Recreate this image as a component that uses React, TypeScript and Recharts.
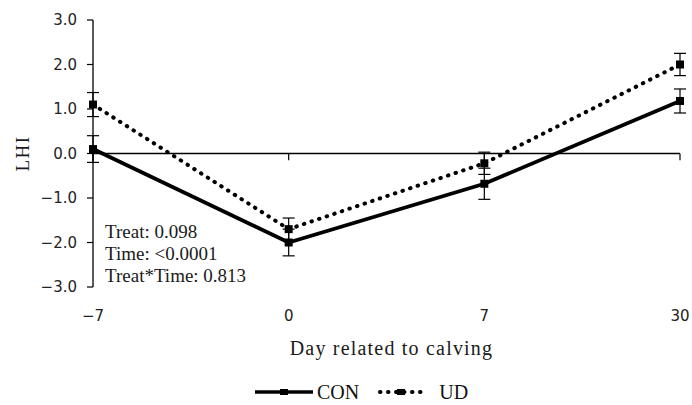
import React from 'react';
import { LineChart, Line, XAxis, YAxis, ErrorBar, ReferenceLine, Legend } from 'recharts';

const days = ['-7', '0', '7', '30'];
const conValues = [0.1, -2.0, -0.68, 1.18];
const conErrors = [0.3, 0.3, 0.35, 0.27];
const udValues = [1.1, -1.7, -0.22, 2.0];
const udErrors = [0.27, 0.25, 0.25, 0.25];
const yTicks = [-3, -2, -1, 0, 1, 2, 3];
const statLines = ['Treat: 0.098', 'Time: <0.0001', 'Treat*Time: 0.813'];

const data = days.map((day, i) => ({
  day,
  con: conValues[i],
  conErr: conErrors[i],
  ud: udValues[i],
  udErr: udErrors[i],
}));

const serif = '"Liberation Serif", "DejaVu Serif", serif';
const sans = '"DejaVu Sans", sans-serif';

const minus = (s: string) => s.replace('-', '\u2212');

const SquareDot = (props: any) => {
  const { cx, cy } = props;
  if (cx == null || cy == null) return null;
  return <rect x={cx - 4} y={cy - 4} width={8} height={8} fill="#000" />;
};

const renderLegend = () => (
  <div style={{ display: 'flex', alignItems: 'center', paddingLeft: 255, paddingTop: 17, height: 20, fontFamily: serif, fontSize: 20, color: '#111' }}>
    <svg width={58} height={12}>
      <line x1={0} y1={6} x2={58} y2={6} stroke="#000" strokeWidth={3.5} />
      <rect x={25} y={3} width={8} height={6} fill="#000" />
    </svg>
    <span style={{ marginLeft: 4 }}>CON</span>
    <svg width={46} height={12} style={{ marginLeft: 19 }}>
      <line x1={2} y1={6} x2={46} y2={6} stroke="#000" strokeWidth={4} strokeDasharray="0.5 7.5" strokeLinecap="round" />
      <rect x={19} y={3} width={8} height={6} fill="#000" />
    </svg>
    <span style={{ marginLeft: 15 }}>UD</span>
  </div>
);

const YLabel = (props: any) => {
  const { viewBox } = props;
  const x = viewBox.x + 22;
  const y = viewBox.y + viewBox.height / 2;
  return (
    <text x={x} y={y} transform={`rotate(-90, ${x}, ${y})`} textAnchor="middle" dominantBaseline="central"
      fontFamily={serif} fontSize={19} letterSpacing={1.5} fill="#1a1a1a">
      LHI
    </text>
  );
};

export default function App() {
  return (
    <div style={{ position: 'relative', width: 692, height: 405, background: '#fff' }}>
      <style>{'body{margin:0}'}</style>
      <LineChart width={692} height={405} data={data} margin={{ top: 20, right: 12, bottom: 0, left: 0 }}>
        <XAxis
          dataKey="day"
          axisLine={false}
          tickLine={false}
          tickSize={0}
          tickMargin={23}
          height={78}
          tickFormatter={minus}
          tick={{ fontFamily: sans, fontSize: 15, fill: '#222' }}
          label={{ value: 'Day related to calving', position: 'insideBottom', offset: 10, dx: 5, fontFamily: serif, fontSize: 20, fill: '#1a1a1a', letterSpacing: 1.2 }}
        />
        <YAxis
          domain={[-3, 3]}
          ticks={yTicks}
          width={93}
          tickSize={6}
          tickMargin={10}
          axisLine={{ stroke: '#000', strokeWidth: 1.3 }}
          tickLine={{ stroke: '#000', strokeWidth: 1.2 }}
          tickFormatter={(v: number) => minus(v.toFixed(1))}
          tick={{ fontFamily: sans, fontSize: 15, fill: '#222' }}
          label={<YLabel />}
        />
        <ReferenceLine y={0} stroke="#000" strokeWidth={1.3} />
        {days.map((d) => (
          <ReferenceLine key={d} segment={[{ x: d, y: 0 }, { x: d, y: -0.15 }]} stroke="#000" strokeWidth={1.2} />
        ))}
        <Line dataKey="ud" stroke="#000" strokeWidth={4} strokeDasharray="0.5 7.5" strokeLinecap="round"
          dot={<SquareDot />} activeDot={false} isAnimationActive={false}>
          <ErrorBar dataKey="udErr" width={6} stroke="#000" strokeWidth={1.2} direction="y" />
        </Line>
        <Line dataKey="con" stroke="#000" strokeWidth={3.8} dot={<SquareDot />} activeDot={false} isAnimationActive={false}>
          <ErrorBar dataKey="conErr" width={6} stroke="#000" strokeWidth={1.2} direction="y" />
        </Line>
        <Legend verticalAlign="bottom" height={40} content={renderLegend} />
      </LineChart>
      <div style={{ position: 'absolute', left: 105, top: 221, fontFamily: serif, fontSize: 19, lineHeight: '22px', color: '#1a1a1a', whiteSpace: 'pre' }}>
        {statLines.map((s) => (
          <div key={s}>{s}</div>
        ))}
      </div>
    </div>
  );
}
